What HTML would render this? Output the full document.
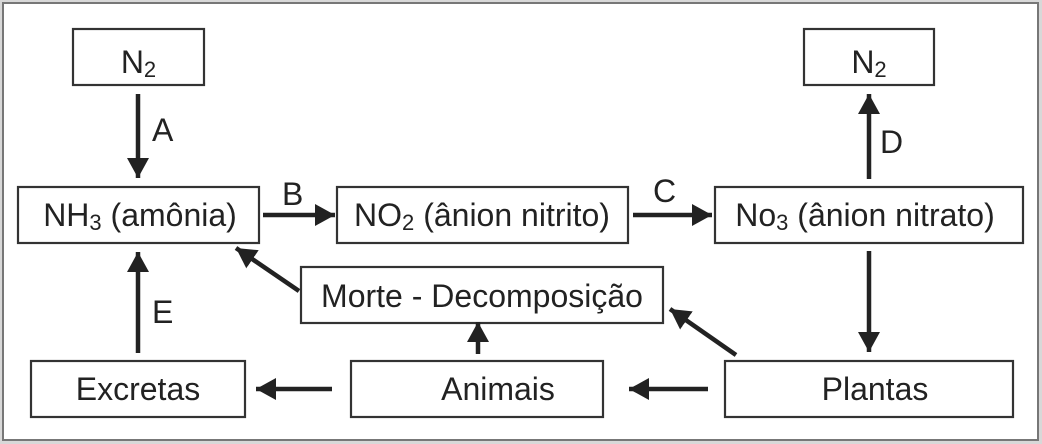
<!DOCTYPE html><html><head><meta charset="utf-8"><style>html,body{margin:0;padding:0;background:#fff}svg{display:block}text{font-family:"Liberation Sans",Arial,sans-serif;font-size:32px;fill:#222}</style></head><body>
<svg width="1042" height="444" viewBox="0 0 1042 444" xmlns="http://www.w3.org/2000/svg">
<defs>
<marker id="a" viewBox="0 0 20 22" refX="20" refY="11" markerWidth="20" markerHeight="22" orient="auto" markerUnits="userSpaceOnUse"><path d="M0,0 L20,11 L0,22 Z" fill="#222"/></marker></defs>
<rect x="0" y="0" width="1042" height="444" fill="#d8d8d8"/>
<rect x="3" y="3" width="1035" height="437" fill="#fff" stroke="#777" stroke-width="2"/>
<g fill="#fff" stroke="#333" stroke-width="2.2">
<rect x="73" y="29" width="131" height="56"/>
<rect x="804" y="29" width="130" height="56"/>
<rect x="18" y="187" width="241" height="56"/>
<rect x="337" y="187" width="291" height="56"/>
<rect x="715" y="187" width="308" height="56"/>
<rect x="301" y="267" width="362" height="56"/>
<rect x="31" y="361" width="214" height="56"/>
<rect x="351" y="361" width="252" height="56"/>
<rect x="725" y="361" width="288" height="56"/>
</g>
<g stroke="#222" stroke-width="4.5" fill="none" marker-end="url(#a)">
<line x1="138" y1="94" x2="138" y2="178"/>
<line x1="869" y1="179" x2="869" y2="94"/>
<line x1="869" y1="251" x2="869" y2="352"/>
<line x1="138" y1="353" x2="138" y2="252"/>
<line x1="263" y1="215" x2="335" y2="215"/>
<line x1="633" y1="215" x2="712" y2="215"/>
<line x1="299" y1="291" x2="236" y2="248"/>
<line x1="736" y1="355" x2="670" y2="309"/>
<line x1="478" y1="354" x2="478" y2="322"/>
<line x1="332" y1="389" x2="256" y2="389"/>
<line x1="708" y1="389" x2="629" y2="389"/>
</g>
<text x="138.5" y="73" text-anchor="middle">N<tspan font-size="22" dy="4">2</tspan></text>
<text x="869" y="73" text-anchor="middle">N<tspan font-size="22" dy="4">2</tspan></text>
<text x="140" y="226" text-anchor="middle">NH<tspan font-size="22" dy="4">3</tspan><tspan dy="-4"> (amônia)</tspan></text>
<text x="482" y="226" text-anchor="middle">NO<tspan font-size="22" dy="4">2</tspan><tspan dy="-4"> (ânion nitrito)</tspan></text>
<text x="865" y="226" text-anchor="middle">No<tspan font-size="22" dy="4">3</tspan><tspan dy="-4"> (ânion nitrato)</tspan></text>
<text x="482" y="307" text-anchor="middle">Morte - Decomposição</text>
<text x="138" y="400" text-anchor="middle">Excretas</text>
<text x="498" y="400" text-anchor="middle">Animais</text>
<text x="875" y="400" text-anchor="middle">Plantas</text>
<text x="152" y="141">A</text>
<text x="282" y="205">B</text>
<text x="653" y="202">C</text>
<text x="880" y="153">D</text>
<text x="152" y="323">E</text>
</svg>
</body></html>
